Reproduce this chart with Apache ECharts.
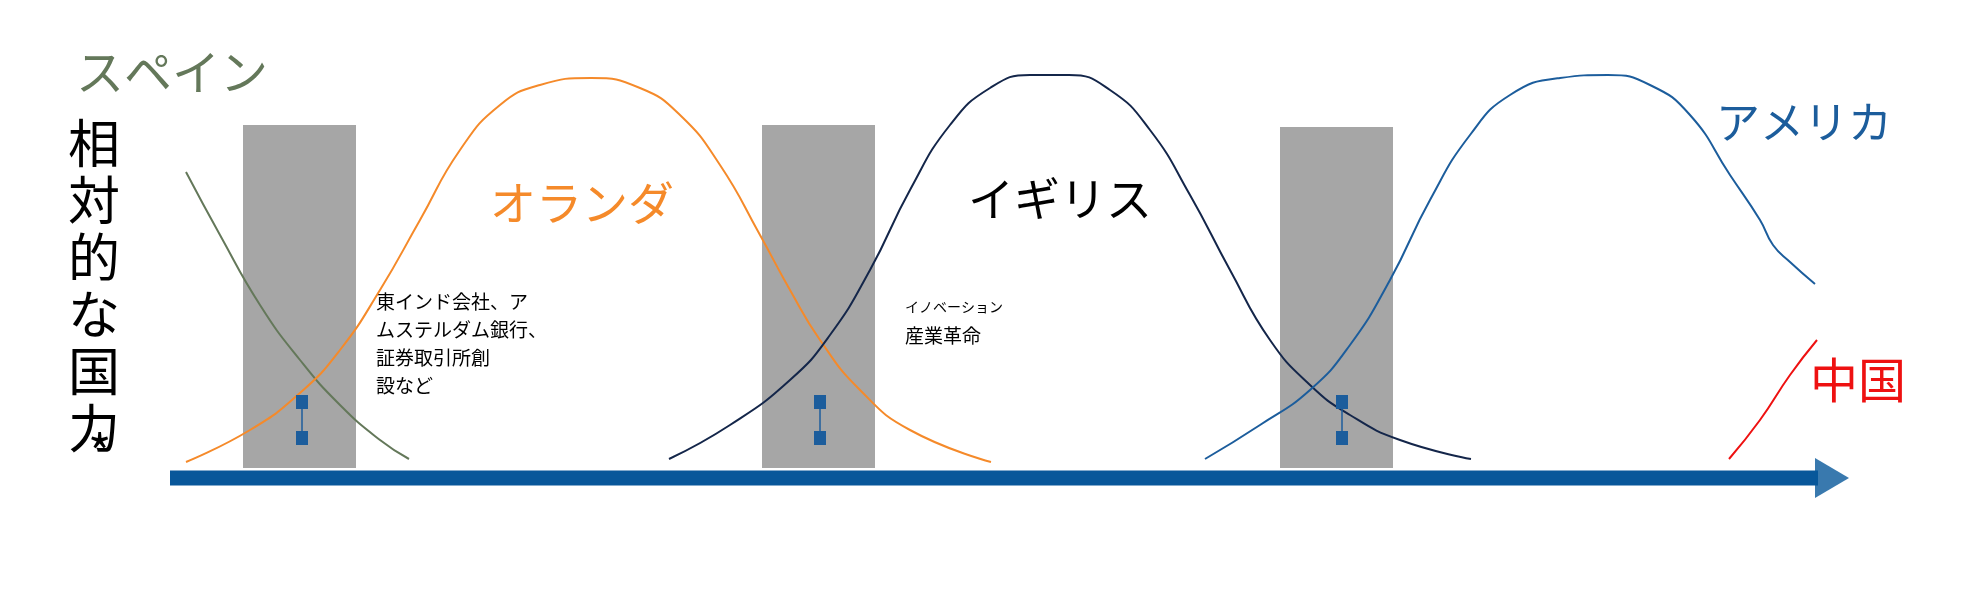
<!DOCTYPE html>
<html><head><meta charset="utf-8">
<script src="https://cdn.jsdelivr.net/npm/echarts@6/dist/echarts.min.js"></script>
<style>html,body{margin:0;padding:0;background:#fff}#c{width:1972px;height:603px}</style>
</head><body><div id="c"></div>
<script>
// schematic positions (x: timeline position, y: height from top, chart units)
const spain   = [[186,172],[220,235],[260,305],[300,360],[340,405],[380,440],[409,459]];
const holland = [[186,462],[250,430],[300,393],[340,350],[380,290],[420,220],[460,150],[500,105],[540,85],[591,78],[640,88],[680,115],[720,165],[760,235],[790,290],[820,340],[860,390],[910,430],[991,462]];
const britain = [[669,459],[730,425],[790,380],[830,335],[870,270],[910,190],[950,125],[990,88],[1030,75],[1069,75],[1110,90],[1150,130],[1190,195],[1230,270],[1270,340],[1310,385],[1350,415],[1400,440],[1471,459]];
const america = [[1205,459],[1260,425],[1310,390],[1350,345],[1390,280],[1430,200],[1470,135],[1510,95],[1560,78],[1608,75],[1650,85],[1690,115],[1730,175],[1760,220],[1773,245],[1790,262],[1815,284]];
const china   = [[1729,459],[1760,420],[1790,375],[1817,340]];
const transitionBars = [[243,356,125,468],[762,875,125,468],[1280,1393,127,468]];
const yearTicks = [['1600',245,541],['1700',651,541],['1800',1006,541],['1900',1343,541],['2000',1726,528]];
const arrows = [[302,438,302,402],[820,438,820,402],[1342,438,1342,402]];

const chart = echarts.init(document.getElementById('c'));
const JP = '"Noto Sans CJK JP", sans-serif';
function curve(data,color){return {type:'line',data,smooth:true,symbol:'none',lineStyle:{color,width:2},z:3};}
chart.setOption({
  animation:false,
  grid:{left:0,right:0,top:0,bottom:0},
  xAxis:{type:'value',min:0,max:1972,show:false},
  yAxis:{type:'value',min:0,max:603,inverse:true,show:false},
  series:[
    {type:'custom',z:1,data:transitionBars,renderItem:(p,api)=>{
      const a=api.coord([api.value(0),api.value(2)]),b=api.coord([api.value(1),api.value(3)]);
      return {type:'rect',shape:{x:a[0],y:a[1],width:b[0]-a[0],height:b[1]-a[1]},style:{fill:'#a6a6a6'}};}},
    curve(spain,'#64785a'),curve(holland,'#f58a2a'),curve(britain,'#14264a'),curve(america,'#1c5d9c'),curve(china,'#ee1111'),
    {type:'line',data:[[170,478],[1818,478]],symbol:'none',lineStyle:{color:'#08579a',width:15},z:4},
    {type:'scatter',data:[[1832,478]],symbol:'triangle',symbolRotate:-90,symbolSize:[40,34],itemStyle:{color:'#08579a'},z:4},
    ...arrows.map(a=>({type:'line',data:[[a[0],a[1]],[a[2],a[3]]],symbol:['none','triangle'],symbolSize:[12,14],symbolRotate:0,
      lineStyle:{color:'#1c5d9c',width:1.5},itemStyle:{color:'#1c5d9c'},z:5})),
    {type:'scatter',data:yearTicks.map(t=>[t[1],t[2]]),symbol:'none',z:5,
      label:{show:true,position:'inside',formatter:p=>yearTicks[p.dataIndex][0],fontFamily:'"Noto Sans", sans-serif',fontSize:21,color:'#000'}},
    {type:'scatter',data:transitionBars.map(b=>[(b[0]+b[1])/2,455]),symbol:'none',z:5,
      label:{show:true,position:'inside',formatter:'新世界秩序',fontFamily:JP,fontSize:19,color:'#222'}}
  ],
  graphic:[
    {type:'text',left:76,top:48,style:{text:'スペイン',font:'48px '+JP,fill:'#64785a'}},
    {type:'text',left:68,top:115,style:{text:'相\n対\n的\nな\n国\n力',font:'52px '+JP,fill:'#000',lineHeight:57}},
    {type:'text',left:88,top:428,style:{text:'*',font:'50px '+JP,fill:'#000'}},
    {type:'text',left:490,top:180,style:{text:'オランダ',font:'46px '+JP,fill:'#f58a2a'}},
    {type:'text',left:968,top:176,style:{text:'イギリス',font:'46px '+JP,fill:'#000'}},
    {type:'text',left:1716,top:100,style:{text:'アメリカ',font:'44px '+JP,fill:'#1c5d9c'}},
    {type:'text',left:1810,top:356,style:{text:'中国',font:'48px '+JP,fill:'#ee1111'}},
    {type:'text',left:376,top:288,style:{text:'東インド会社、ア\nムステルダム銀行、\n証券取引所創\n設など',font:'19px '+JP,fill:'#000',lineHeight:28}},
    {type:'text',left:905,top:300,style:{text:'イノベーション',font:'14px '+JP,fill:'#000'}},
    {type:'text',left:905,top:326,style:{text:'産業革命',font:'19px '+JP,fill:'#000'}}
  ]
});
</script></body></html>
